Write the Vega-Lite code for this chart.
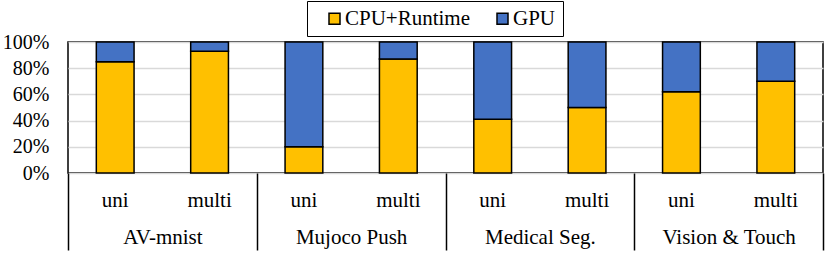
{
  "$schema": "https://vega.github.io/schema/vega-lite/v6.json",
  "width": 755,
  "height": 131,
  "autosize": {"type": "none"},
  "padding": {"left": 68, "top": 42, "right": 8, "bottom": 81},
  "background": "white",
  "config": {
    "font": "'Times New Roman', 'Liberation Serif', serif",
    "view": {"stroke": "black", "strokeWidth": 1.5},
    "axis": {"labelFont": "'Times New Roman', 'Liberation Serif', serif", "labelFontSize": 21, "labelColor": "black"},
    "legend": {"labelFont": "'Times New Roman', 'Liberation Serif', serif"}
  },
  "data": {
    "values": [
      {"group": "AV-mnist", "key": "AV-mnist|uni", "series": "CPU+Runtime", "order": 1, "value": 0.85},
      {"group": "AV-mnist", "key": "AV-mnist|uni", "series": "GPU", "order": 2, "value": 0.15},
      {"group": "AV-mnist", "key": "AV-mnist|multi", "series": "CPU+Runtime", "order": 1, "value": 0.93},
      {"group": "AV-mnist", "key": "AV-mnist|multi", "series": "GPU", "order": 2, "value": 0.07},
      {"group": "Mujoco Push", "key": "Mujoco Push|uni", "series": "CPU+Runtime", "order": 1, "value": 0.20},
      {"group": "Mujoco Push", "key": "Mujoco Push|uni", "series": "GPU", "order": 2, "value": 0.80},
      {"group": "Mujoco Push", "key": "Mujoco Push|multi", "series": "CPU+Runtime", "order": 1, "value": 0.87},
      {"group": "Mujoco Push", "key": "Mujoco Push|multi", "series": "GPU", "order": 2, "value": 0.13},
      {"group": "Medical Seg.", "key": "Medical Seg.|uni", "series": "CPU+Runtime", "order": 1, "value": 0.41},
      {"group": "Medical Seg.", "key": "Medical Seg.|uni", "series": "GPU", "order": 2, "value": 0.59},
      {"group": "Medical Seg.", "key": "Medical Seg.|multi", "series": "CPU+Runtime", "order": 1, "value": 0.50},
      {"group": "Medical Seg.", "key": "Medical Seg.|multi", "series": "GPU", "order": 2, "value": 0.50},
      {"group": "Vision & Touch", "key": "Vision & Touch|uni", "series": "CPU+Runtime", "order": 1, "value": 0.62},
      {"group": "Vision & Touch", "key": "Vision & Touch|uni", "series": "GPU", "order": 2, "value": 0.38},
      {"group": "Vision & Touch", "key": "Vision & Touch|multi", "series": "CPU+Runtime", "order": 1, "value": 0.70},
      {"group": "Vision & Touch", "key": "Vision & Touch|multi", "series": "GPU", "order": 2, "value": 0.30}
    ]
  },
  "layer": [
    {
      "mark": {"type": "bar", "stroke": "black", "strokeWidth": 1.5},
      "encoding": {
        "x": {
          "field": "key", "type": "nominal", "sort": null,
          "scale": {"paddingInner": 0.6, "paddingOuter": 0.3},
          "axis": {"orient": "bottom", "title": null, "domain": false, "ticks": false, "tickSize": 0, "labelPadding": 33, "labelBaseline": "alphabetic", "labelAngle": 0, "labelExpr": "split(datum.label, '|')[1]", "grid": false}
        },
        "y": {
          "field": "value", "type": "quantitative", "stack": "zero",
          "scale": {"domain": [0, 1], "nice": false},
          "axis": {"title": null, "values": [0, 0.2, 0.4, 0.6, 0.8, 1], "format": ".0%", "domain": false, "ticks": false, "labelPadding": 19, "labelFontSize": 20, "gridColor": "#D9D9D9", "gridWidth": 1.5}
        },
        "color": {
          "field": "series", "type": "nominal",
          "scale": {"domain": ["CPU+Runtime", "GPU"], "range": ["#FFC000", "#4472C4"]},
          "legend": {"orient": "none", "legendX": 239, "legendY": -41, "direction": "horizontal", "title": null, "strokeColor": "black", "fillColor": "white", "padding": 7, "symbolType": "square", "symbolSize": 121, "symbolStrokeColor": "black", "symbolStrokeWidth": 1.5, "labelFontSize": 21, "labelColor": "black", "labelOffset": 0, "columnPadding": 11, "symbolOffset": 10}
        },
        "order": {"field": "order", "type": "quantitative"}
      }
    },
    {
      "mark": {"type": "point", "opacity": 0},
      "encoding": {
        "x": {
          "field": "group", "type": "nominal", "sort": null,
          "scale": {"type": "band", "paddingInner": 0, "paddingOuter": 0},
          "axis": {"orient": "bottom", "title": null, "domain": false, "ticks": true, "tickBand": "extent", "tickSize": 77, "tickColor": "black", "tickWidth": 1.5, "labelPadding": -7, "labelBaseline": "alphabetic", "labelAngle": 0, "grid": false}
        }
      }
    }
  ],
  "resolve": {"scale": {"x": "independent"}}
}
